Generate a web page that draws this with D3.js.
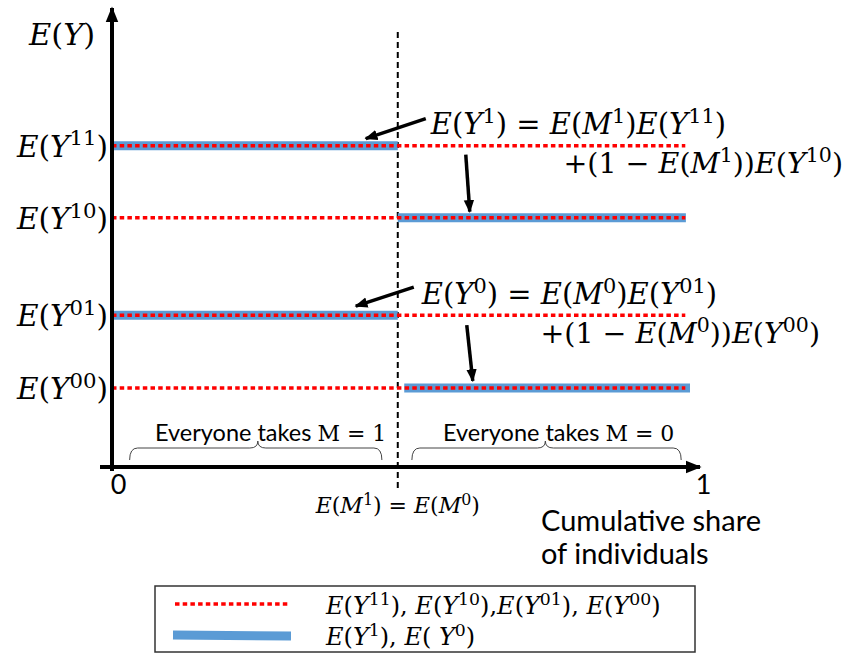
<!DOCTYPE html>
<html>
<head>
<meta charset="utf-8">
<script src="https://cdn.jsdelivr.net/npm/d3@7"></script>
<style>
  body { margin: 0; background: #fff; }
  .sans { font-family: Lato, "Open Sans", sans-serif; }
  .math { font-family: "DejaVu Serif", serif; }
</style>
</head>
<body>
<div id="vis"></div>
<script>
// potential outcome levels (arbitrary units)
const levelLabels = ["E(Y^{11})", "E(Y^{10})", "E(Y^{01})", "E(Y^{00})"];
const levelValues = [4.55, 3.53, 2.15, 1.12];
const redEnd = [0.975, 0.975, 0.975, 0.975];

// observed mean outcomes E(Y1), E(Y0): piecewise segments
const blueLevel = [4.55, 3.53, 2.15, 1.12];
const blueFrom = [0, 0.486, 0, 0.497];
const blueTo = [0.486, 0.976, 0.486, 0.983];

const shareM = 0.486;          // E(M1) = E(M0)
const xTicks = [0, 1];

const W = 848, H = 655;
const svg = d3.select("#vis").append("svg").attr("width", W).attr("height", H);

const x = d3.scaleLinear().domain([0, 1]).range([112, 700]);
const y = d3.scaleLinear().domain([0, 6.5]).range([467, 8]);

const defs = svg.append("defs");
defs.append("marker").attr("id", "head")
  .attr("markerUnits", "userSpaceOnUse")
  .attr("viewBox", "0 0 10 10").attr("refX", 9).attr("refY", 5)
  .attr("markerWidth", 16).attr("markerHeight", 16).attr("orient", "auto")
  .append("path").attr("d", "M0,1 L10,5 L0,9 Z").attr("fill", "black");
defs.append("marker").attr("id", "small")
  .attr("markerUnits", "userSpaceOnUse")
  .attr("viewBox", "0 0 10 10").attr("refX", 9).attr("refY", 5)
  .attr("markerWidth", 13).attr("markerHeight", 13).attr("orient", "auto")
  .append("path").attr("d", "M0,1 L10,5 L0,9 Z").attr("fill", "black");

// writes simple math markup into a text element: letters italic, ^{..} superscript
function math(text, str, size) {
  text.classed("math", true).attr("font-size", size);
  const re = /\^\{([^}]*)\}|([A-Za-z]+)|([^A-Za-z^]+)/g;
  let m, up = false;
  while ((m = re.exec(str)) !== null) {
    const t = text.append("tspan");
    if (m[1] !== undefined) {
      t.text(m[1]).attr("font-size", size * 0.72).attr("dy", -size * 0.38);
      up = true;
    } else {
      t.text(m[2] || m[3]);
      if (m[2]) t.attr("font-style", "italic");
      if (up) { t.attr("dy", size * 0.38); up = false; }
    }
  }
  return text;
}

// dashed vertical at E(M)
svg.append("line")
  .attr("x1", x(shareM)).attr("x2", x(shareM))
  .attr("y1", 32).attr("y2", 492)
  .attr("stroke", "black").attr("stroke-width", 2).attr("stroke-dasharray", "6,4");

// blue segments
svg.selectAll(".blue").data(blueLevel).enter().append("line")
  .attr("x1", (d, i) => x(blueFrom[i])).attr("x2", (d, i) => x(blueTo[i]))
  .attr("y1", d => y(d)).attr("y2", d => y(d))
  .attr("stroke", "#5b9bd5").attr("stroke-width", 9);

// red dotted levels
svg.selectAll(".red").data(levelValues).enter().append("line")
  .attr("x1", x(0)).attr("x2", (d, i) => x(redEnd[i]))
  .attr("y1", d => y(d)).attr("y2", d => y(d))
  .attr("stroke", "#ff0000").attr("stroke-width", 3.5).attr("stroke-dasharray", "4.5,3.2");

// level labels
levelLabels.forEach((l, i) => {
  math(svg.append("text").attr("x", 108).attr("y", y(levelValues[i]) + 11)
    .attr("text-anchor", "end"), l, 29.5);
});

// axes
svg.append("line").attr("x1", x(0)).attr("x2", x(0))
  .attr("y1", y(0) + 4).attr("y2", y(6.5))
  .attr("stroke", "black").attr("stroke-width", 4).attr("marker-end", "url(#head)");
svg.append("line").attr("x1", 100).attr("x2", x(1))
  .attr("y1", y(0)).attr("y2", y(0))
  .attr("stroke", "black").attr("stroke-width", 4).attr("marker-end", "url(#head)");

const xAxis = svg.append("g").attr("transform", "translate(0," + (y(0) + 5) + ")")
  .call(d3.axisBottom(x).tickValues(xTicks).tickSize(0).tickFormat(d3.format("d")));
xAxis.select(".domain").remove();
xAxis.selectAll("text").attr("class", "sans").attr("font-size", 27).attr("fill", "black")
  .attr("dx", (d) => d === 0 ? 6 : 3);

math(svg.append("text").attr("x", 29).attr("y", 45), "E(Y)", 30.5);

svg.append("text").attr("class", "sans").attr("x", 541).attr("y", 531)
  .attr("font-size", 29).text("Cumulative share");
svg.append("text").attr("class", "sans").attr("x", 541).attr("y", 564)
  .attr("font-size", 29).text("of individuals");

math(svg.append("text").attr("x", x(shareM)).attr("y", 513).attr("text-anchor", "middle"),
  "E(M^{1}) = E(M^{0})", 22);

// braces
function brace(x1, x2, yb, tip) {
  const yMid = yb - 12, yTop = yb - 19;
  return "M" + x1 + "," + yb + " Q" + x1 + "," + yMid + " " + (x1 + 8) + "," + yMid +
    " L" + (tip - 8) + "," + yMid + " Q" + tip + "," + yMid + " " + tip + "," + yTop +
    " Q" + tip + "," + yMid + " " + (tip + 8) + "," + yMid +
    " L" + (x2 - 8) + "," + yMid + " Q" + x2 + "," + yMid + " " + x2 + "," + yb;
}
svg.append("path").attr("d", brace(x(0.03), x(0.459), 460, x(0.248)))
  .attr("fill", "none").attr("stroke", "#444").attr("stroke-width", 1);
svg.append("path").attr("d", brace(x(0.51), x(0.968), 460, x(0.737)))
  .attr("fill", "none").attr("stroke", "#444").attr("stroke-width", 1);

const t1 = svg.append("text").attr("class", "sans").attr("x", 155).attr("y", 441).attr("font-size", 23.5);
t1.append("tspan").text("Everyone takes ");
t1.append("tspan").attr("class", "math").attr("font-size", 22).text("M = 1");
const t2 = svg.append("text").attr("class", "sans").attr("x", 443).attr("y", 441).attr("font-size", 23.5);
t2.append("tspan").text("Everyone takes ");
t2.append("tspan").attr("class", "math").attr("font-size", 22).text("M = 0");

// equations
const xm = x(shareM);
math(svg.append("text").attr("x", xm + 33).attr("y", y(levelValues[0]) - 12),
  "E(Y^{1}) = E(M^{1})E(Y^{11})", 29);
math(svg.append("text").attr("x", 843).attr("y", y(levelValues[0]) + 27).attr("text-anchor", "end"),
  "+(1 − E(M^{1}))E(Y^{10})", 28.5);
math(svg.append("text").attr("x", xm + 24).attr("y", y(levelValues[2]) - 11),
  "E(Y^{0}) = E(M^{0})E(Y^{01})", 29);
math(svg.append("text").attr("x", 820).attr("y", y(levelValues[2]) + 28).attr("text-anchor", "end"),
  "+(1 − E(M^{0}))E(Y^{00})", 28.5);

// arrows
const arrows = [
  [xm + 28, y(levelValues[0]) - 27, xm - 32, y(levelValues[0]) - 7],
  [xm + 68, y(levelValues[0]) + 9, xm + 72, y(levelValues[1]) - 6],
  [xm + 16, y(levelValues[2]) - 28, xm - 42, y(levelValues[2]) - 9],
  [xm + 69, y(levelValues[2]) + 10, xm + 75, y(levelValues[3]) - 7]
];
svg.selectAll(".arrow").data(arrows).enter().append("line")
  .attr("x1", d => d[0]).attr("y1", d => d[1]).attr("x2", d => d[2]).attr("y2", d => d[3])
  .attr("stroke", "black").attr("stroke-width", 3.5).attr("marker-end", "url(#small)");

// legend
const lg = svg.append("g");
lg.append("rect").attr("x", 155).attr("y", 586).attr("width", 540).attr("height", 66)
  .attr("fill", "white").attr("stroke", "#333").attr("stroke-width", 1.5);
lg.append("line").attr("x1", 175).attr("x2", 290).attr("y1", 604).attr("y2", 604)
  .attr("stroke", "#ff0000").attr("stroke-width", 3.5).attr("stroke-dasharray", "4.5,3.2");
lg.append("line").attr("x1", 173).attr("x2", 291).attr("y1", 635).attr("y2", 636)
  .attr("stroke", "#5b9bd5").attr("stroke-width", 9);
math(lg.append("text").attr("x", 326).attr("y", 614), "E(Y^{11}), E(Y^{10}),E(Y^{01}), E(Y^{00})", 24);
math(lg.append("text").attr("x", 326).attr("y", 645), "E(Y^{1}), E( Y^{0})", 24);
</script>
</body>
</html>
